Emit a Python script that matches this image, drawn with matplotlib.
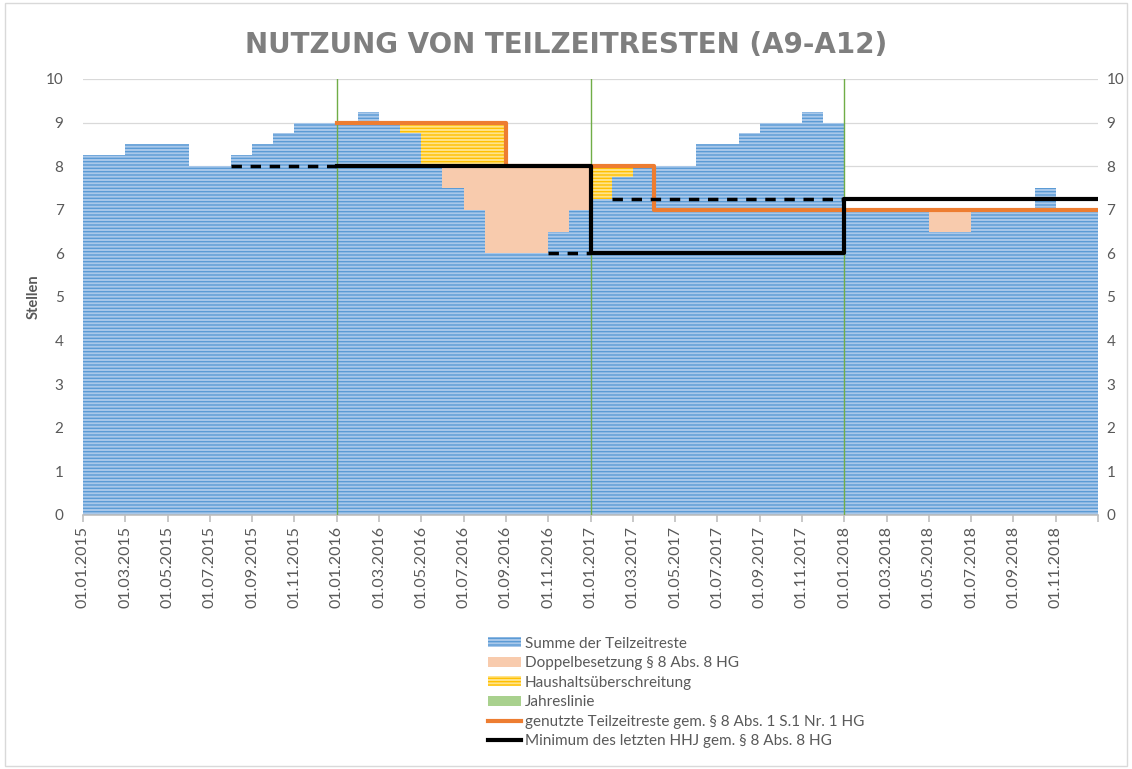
import matplotlib
matplotlib.use("Agg")
import matplotlib.pyplot as plt
import numpy as np
from matplotlib.patches import Patch, Rectangle
from matplotlib.lines import Line2D

plt.rcParams['font.family'] = ['Lato', 'DejaVu Sans']
plt.rcParams['hatch.linewidth'] = 1.0

# monthly values, Jan 2015 .. Dec 2018
summe = [8.25, 8.25, 8.5, 8.5, 8.5, 8, 8, 8.25, 8.5, 8.75, 9, 9,
         9, 9.25, 9, 8.75, 8, 7.5, 7, 6, 6, 6, 6.5, 7,
         7.25, 7.75, 8, 8, 8, 8.5, 8.5, 8.75, 9, 9, 9.25, 9,
         7, 7, 7, 7, 6.5, 6.5, 7, 7, 7, 7.5, 7, 7]
doppel = [0]*12 + \
         [0, 0, 0, 0, 0, 0.5, 1, 2, 2, 2, 1.5, 1] + \
         [0]*12 + \
         [0, 0, 0, 0, 0.5, 0.5, 0, 0, 0, 0, 0, 0]
haushalt = [0]*12 + \
           [0, 0, 0, 0.25, 1, 1, 1, 1, 0, 0, 0, 0] + \
           [0.75, 0.25, 0, 0, 0, 0, 0, 0, 0, 0, 0, 0] + \
           [0]*12
nan = np.nan
genutzt = [nan]*12 + [9]*8 + [8]*4 + [8]*3 + [7]*9 + [7]*12
minimum = [nan]*12 + [8]*12 + [6]*12 + [7.25]*12
minimum_vorschau = [nan]*7 + [8]*5 + [nan]*10 + [6]*2 + [nan] + [7.25]*11 + [nan]*12
jahreslinie = [12, 24, 36]

years = [2015, 2016, 2017, 2018]
tick_labels = ['01.%02d.%d' % (m, y) for y in years for m in range(1, 13, 2)]

n = len(summe)
x = np.arange(n)
summe = np.array(summe)
doppel = np.array(doppel)
haushalt = np.array(haushalt)

fig = plt.figure(figsize=(11.32, 7.69), dpi=100)
ax = fig.add_axes([83/1132, 1-515/769, (1098-83)/1132, (515-79)/769])

grey = '#595959'

ax.bar(x, summe, width=1, align='edge', color='#A9C8EA', edgecolor='#5B9BD5',
       linewidth=0, hatch='-----', zorder=2)
ax.bar(x, doppel, bottom=summe, width=1, align='edge', color='#F8CBAD',
       linewidth=0, zorder=2)
ax.bar(x, haushalt, bottom=summe+doppel, width=1, align='edge', color='#FFE38A',
       edgecolor='#FFC000', linewidth=0, hatch='-----', zorder=2)

for j in jahreslinie:
    ax.plot([j, j], [0, 10], color='#70AD47', lw=1, zorder=3)

xs = np.arange(n+1)
ax.step(xs, list(genutzt) + [genutzt[-1]], where='post', color='#ED7D31', lw=3, zorder=4)
ax.step(xs, list(minimum) + [minimum[-1]], where='post', color='black', lw=3, zorder=5)
ax.step(xs, list(minimum_vorschau) + [nan], where='post', color='black', lw=2.5,
        ls=(0, (3, 2.5)), zorder=5)

ax.set_xlim(0, n)
ax.set_ylim(0, 10)
ax.set_yticks(range(11))
ax.yaxis.grid(True, color='#D9D9D9', lw=0.9, zorder=0)
ax.set_axisbelow(True)
ax.tick_params(axis='y', length=0, labelsize=11, labelcolor=grey, pad=14)
ax.set_xticks(np.arange(0, n+1, 2))
ax.set_xticklabels(tick_labels + [''], rotation=90, fontsize=11.5, color=grey)
ax.tick_params(axis='x', length=5, color='#BFBFBF', width=1.2, pad=3)
for s in ['top', 'left', 'right']:
    ax.spines[s].set_visible(False)
ax.spines['bottom'].set_color('#BFBFBF')
ax.spines['bottom'].set_linewidth(1.2)

# right-hand axis repeats the left one
ax2 = ax.twinx()
ax2.set_ylim(0, 10)
ax2.set_yticks(range(11))
ax2.tick_params(axis='y', length=0, labelsize=11, labelcolor=grey, pad=6)
for s in ax2.spines.values():
    s.set_visible(False)

ax.set_ylabel('Stellen', fontsize=10.5, fontweight='bold', color=grey, labelpad=4)

fig.text(0.5, 1-45/769, 'NUTZUNG VON TEILZEITRESTEN (A9-A12)', ha='center', va='center',
         fontsize=20, fontweight='bold', color='#7F7F7F', family='DejaVu Sans')

handles = [
    Patch(facecolor='#A9C8EA', edgecolor='#5B9BD5', hatch='-----', lw=0),
    Patch(facecolor='#F8CBAD', lw=0),
    Patch(facecolor='#FFE38A', edgecolor='#FFC000', hatch='-----', lw=0),
    Patch(facecolor='#A9D18E', edgecolor='#70AD47', lw=0),
    Line2D([], [], color='#ED7D31', lw=3),
    Line2D([], [], color='black', lw=3),
]
labels = ['Summe der Teilzeitreste', 'Doppelbesetzung § 8 Abs. 8 HG',
          'Haushaltsüberschreitung', 'Jahreslinie',
          'genutzte Teilzeitreste gem. § 8 Abs. 1 S.1 Nr. 1 HG',
          'Minimum des letzten HHJ gem. § 8 Abs. 8 HG']
leg = fig.legend(handles, labels, loc='upper left', bbox_to_anchor=(480/1132, 1-629/769),
                 frameon=False, fontsize=11, handlelength=2.2, handleheight=0.6,
                 handletextpad=0.25, labelspacing=0.36, borderpad=0)
for t in leg.get_texts():
    t.set_color(grey)

fig.patches.append(Rectangle((0.004, 0.004), 0.992, 0.992, transform=fig.transFigure,
                             fill=False, edgecolor='#D9D9D9', lw=1))

fig.savefig('out.png', dpi=100)
